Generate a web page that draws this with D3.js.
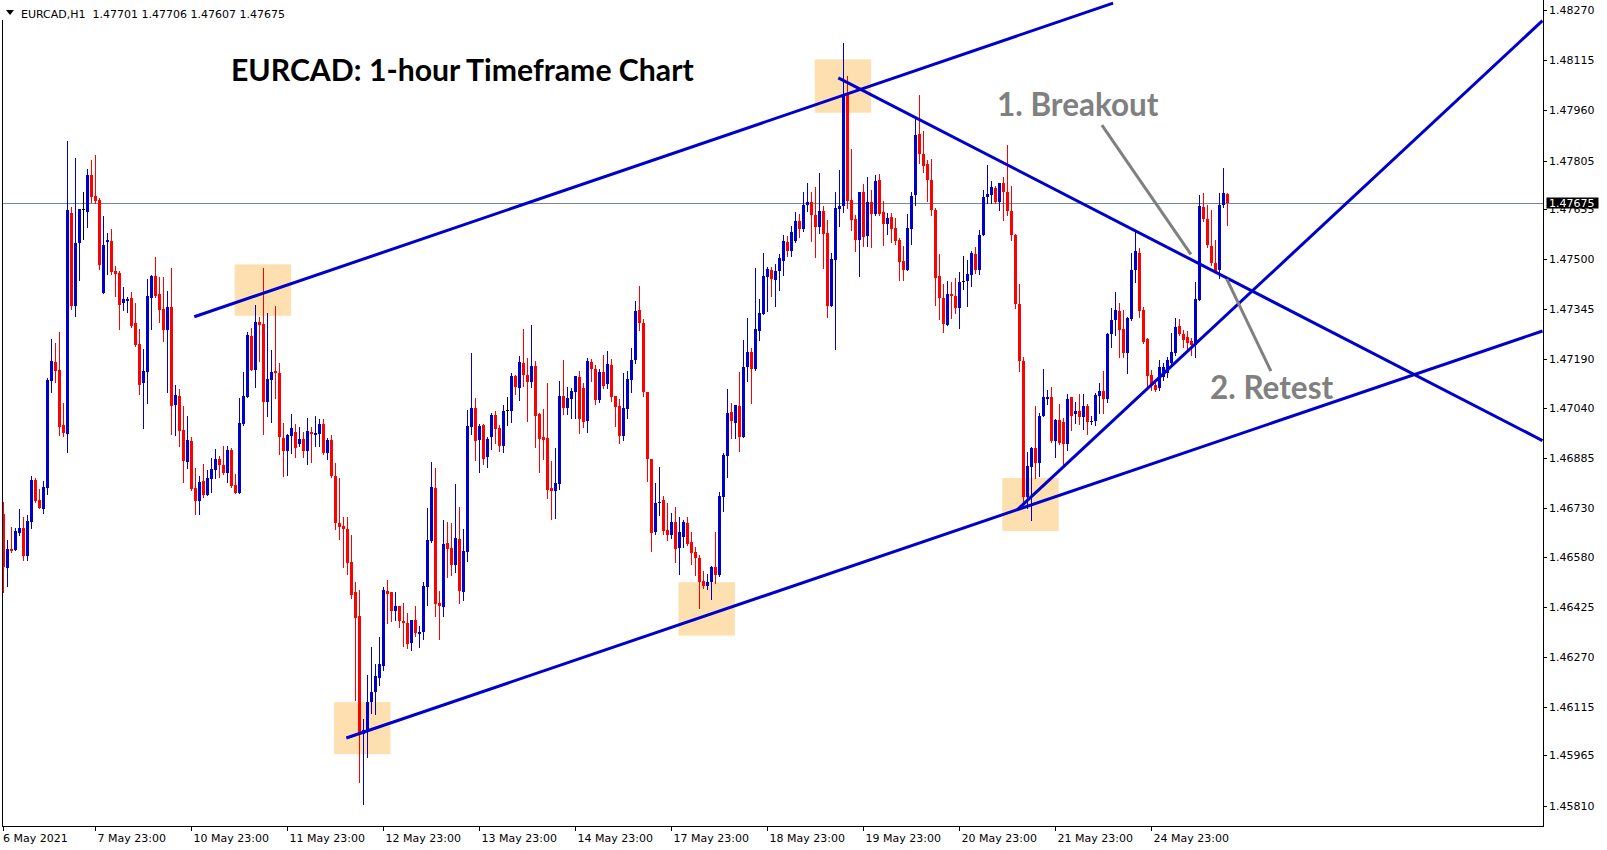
<!DOCTYPE html>
<html><head><meta charset="utf-8">
<script src="https://cdn.jsdelivr.net/npm/d3@7"></script>
<style>body{margin:0;background:#fff;}svg{display:block;}</style>
</head><body>
<svg id="chart" width="1607" height="850"></svg>
<script>
// ---------------- DATA ----------------
const symbol = "EURCAD,H1";
const headerValues = ["1.47701", "1.47706", "1.47607", "1.47675"];
const chartTitle = "EURCAD: 1-hour Timeframe Chart";

// hourly candles, 6 May 2021 .. 25 May 2021 (prices in 1e-5 units added to 1.4)
const opens = [
6712,6545,6604,6601,6653,6669,6582,6687,6817,6755,6728,6793,7124,7182,7158,6987,6960,7643,7355,7550,
7656,7646,7761,7696,7683,7396,7553,7557,7464,7458,7365,7371,7380,7303,7238,7117,7151,7380,7448,7393,
7346,7281,7352,7049,7077,6972,6873,6938,6793,6752,6814,6771,6820,6848,6882,6864,6839,6910,6802,6777,
6991,7074,7263,7158,7306,7300,7059,7127,7154,7148,6947,6907,6953,6966,6929,6944,6907,6966,6956,6960,
6991,6901,6941,6830,6684,6675,6666,6564,6471,6397,6032,6044,6131,6162,6205,6242,6474,6471,6412,6428,
6381,6375,6313,6384,6341,6347,6486,6629,6793,6437,6424,6622,6607,6554,6635,6471,6595,6981,7040,6941,
6987,6888,6950,7018,6978,6922,7034,7031,7139,7102,7179,7142,7120,7170,7021,6950,6947,6793,6783,6805,
7077,7040,7068,7090,7136,7102,7000,7182,7161,7065,7151,7114,7173,7077,7046,6953,7037,7127,7189,7343,
7303,7090,6882,6657,6746,6755,6663,6647,6687,6607,6641,6684,6626,6595,6576,6505,6489,6502,6548,6523,
6765,6892,7028,6994,7046,6950,7167,7213,7161,7278,7331,7445,7467,7436,7464,7495,7553,7526,7557,7618,
7594,7668,7677,7637,7600,7649,7581,7355,7498,7656,7665,8008,7683,7625,7560,7708,7572,7677,7640,7745,
7646,7609,7631,7597,7560,7495,7467,7594,7699,7888,7826,7795,7745,7652,7448,7380,7297,7393,7386,7349,
7433,7433,7451,7516,7467,7575,7693,7699,7721,7677,7736,7708,7649,7575,7362,7185,6765,6858,6916,6870,
7015,7068,7074,6938,7003,6997,6929,7074,7021,7031,7012,7046,6997,7000,7077,7093,7068,7269,7312,7340,
7284,7210,7315,7467,7520,7343,7253,7142,7111,7102,7136,7148,7179,7210,7294,7269,7260,7247,7235,7374,
7662,7625,7541,7488,7467,7668,7701];
const highs = [
6749,6632,6672,6669,6728,6703,6709,6830,6823,6789,6814,7133,7253,7241,7275,7055,7866,7662,7813,7656,
7708,7779,7807,7823,7690,7634,7581,7594,7479,7464,7414,7383,7399,7365,7284,7222,7439,7451,7507,7445,
7445,7402,7473,7111,7099,7046,7015,6950,6854,6830,6867,6848,6885,6913,6892,6922,6922,6916,6836,7071,
7151,7275,7288,7359,7322,7473,7334,7219,7355,7179,6994,6960,7021,6991,6981,6966,7009,6981,7015,7006,
7006,6947,6956,6870,6823,6703,6703,6647,6502,6477,6078,6214,6301,6248,6332,6486,6508,6471,6471,6428,
6437,6406,6384,6428,6366,6502,6731,6873,6854,6474,6694,6687,6684,6805,6734,6666,7034,7210,7071,6991,
6991,6950,7025,7031,6987,7049,7074,7148,7142,7201,7284,7195,7297,7185,7025,7037,7117,6876,6916,7124,
7189,7105,7102,7139,7154,7117,7195,7192,7173,7161,7204,7216,7192,7077,7068,7148,7154,7226,7371,7417,
7315,7090,6882,6808,6858,6768,6746,6715,6734,6703,6694,6703,6657,6610,6585,6536,6527,6551,6657,6780,
6901,7099,7055,7049,7151,7250,7318,7226,7473,7377,7520,7476,7476,7485,7516,7575,7572,7603,7646,7640,
7708,7736,7708,7724,7767,7665,7622,7520,7708,7776,8169,8067,7841,7637,7708,7733,7755,7714,7761,7764,
7680,7643,7643,7628,7566,7541,7640,7708,7937,8008,7897,7807,7810,7659,7516,7424,7433,7430,7442,7461,
7510,7498,7526,7538,7591,7714,7792,7742,7727,7736,7755,7854,7727,7578,7424,7198,6904,6919,7046,7025,
7161,7096,7105,7006,7052,7009,7083,7074,7059,7083,7083,7052,7015,7087,7117,7154,7272,7349,7399,7365,
7343,7322,7520,7584,7535,7352,7257,7158,7117,7189,7179,7198,7272,7318,7315,7281,7278,7257,7430,7699,
7705,7668,7652,7560,7705,7782,7706];
const lows = [
6471,6489,6595,6601,6647,6570,6570,6669,6749,6731,6715,6774,7090,7120,6956,6953,6904,7346,7325,7436,
7563,7600,7677,7674,7470,7396,7455,7455,7386,7284,7343,7337,7291,7232,7083,6978,7055,7284,7383,7306,
7247,7090,6960,6956,6922,6811,6854,6786,6712,6712,6765,6771,6780,6823,6827,6836,6811,6796,6777,6777,
6987,7074,7158,7105,7185,6960,7015,6997,7071,6898,6830,6833,6901,6888,6922,6888,6867,6873,6922,6922,
6898,6882,6827,6666,6635,6548,6527,6452,6137,5883,5815,5961,6097,6094,6183,6230,6375,6381,6384,6363,
6304,6298,6292,6335,6301,6326,6431,6626,6397,6326,6397,6517,6523,6533,6437,6446,6567,6960,6879,6842,
6867,6858,6913,6932,6907,6904,6987,6997,7083,7065,7108,7000,7105,6919,6842,6882,6762,6697,6700,6789,
7021,7021,7009,7009,6963,6981,6966,7124,7052,7059,7102,7102,7062,6984,6932,6941,7009,7090,7179,7281,
7077,6814,6598,6650,6709,6650,6632,6638,6564,6527,6610,6616,6558,6523,6421,6483,6480,6449,6499,6520,
6721,6827,6947,6947,6907,6950,7124,7055,7158,7250,7331,7340,7386,7355,7405,7451,7510,7510,7553,7569,
7588,7649,7557,7507,7581,7473,7322,7355,7222,7603,7646,7659,7591,7526,7448,7541,7541,7538,7637,7637,
7544,7578,7553,7547,7436,7436,7467,7547,7668,7798,7770,7680,7637,7359,7315,7275,7297,7318,7334,7288,
7408,7355,7417,7458,7455,7575,7674,7674,7674,7652,7622,7637,7560,7349,7154,6746,6731,6694,6823,6830,
7015,7052,6935,6888,6929,6864,6910,6972,6994,6991,6975,6960,6991,6987,7025,7025,7059,7229,7266,7198,
7198,7148,7312,7430,7322,7241,7105,7096,7093,7096,7127,7136,7173,7204,7266,7229,7219,7204,7198,7374,
7618,7538,7482,7461,7442,7662,7607];
const closes = [
6548,6604,6598,6660,6669,6582,6690,6817,6752,6731,6796,7127,7185,7154,6981,6963,7652,7355,7550,7656,
7656,7761,7693,7680,7482,7544,7560,7461,7455,7359,7377,7377,7294,7235,7111,7154,7386,7448,7386,7343,
7281,7352,7046,7080,6969,6876,6941,6789,6752,6811,6771,6823,6851,6882,6864,6839,6910,6799,6777,6994,
7077,7266,7158,7306,7297,7059,7130,7151,7148,6950,6907,6956,6978,6916,6944,6907,6969,6960,6963,6991,
6901,6941,6830,6684,6672,6666,6561,6462,6391,6035,6044,6131,6162,6211,6248,6477,6465,6412,6428,6381,
6375,6310,6384,6344,6347,6489,6632,6796,6434,6428,6619,6604,6554,6638,6474,6598,6984,7040,6938,6984,
6882,6944,7018,6975,6922,7031,7034,7139,7105,7182,7142,7120,7170,7015,6944,6941,6786,6783,6808,7077,
7040,7071,7093,7139,7006,6997,7185,7161,7065,7151,7108,7176,7074,7043,6953,7040,7130,7189,7340,7303,
7090,6882,6653,6746,6749,6660,6647,6687,6604,6657,6687,6619,6592,6576,6502,6489,6502,6548,6523,6768,
6895,7025,7000,7049,6950,7167,7213,7161,7284,7334,7448,7470,7439,7464,7504,7557,7526,7584,7618,7594,
7668,7677,7637,7600,7649,7578,7355,7501,7659,7665,8008,7680,7622,7560,7708,7569,7677,7640,7742,7640,
7609,7628,7594,7557,7492,7467,7597,7696,7884,7826,7789,7745,7652,7442,7380,7300,7393,7386,7349,7430,
7433,7455,7520,7467,7575,7693,7702,7724,7677,7736,7708,7649,7575,7362,7185,6765,6861,6916,6870,7015,
7074,7074,6938,7003,6932,6929,7068,7015,7031,7012,7046,6997,7000,7080,7093,7068,7269,7312,7343,7281,
7210,7318,7467,7526,7340,7244,7139,7111,7096,7167,7167,7189,7213,7291,7269,7250,7241,7235,7377,7665,
7625,7544,7488,7464,7668,7705,7675];

const timeLabels = ["6 May 2021","7 May 23:00","10 May 23:00","11 May 23:00","12 May 23:00","13 May 23:00",
  "14 May 23:00","17 May 23:00","18 May 23:00","19 May 23:00","20 May 23:00","21 May 23:00","24 May 23:00"];
const timeLabelBars = [0,23,47,71,95,119,143,167,191,215,239,263,287];

const priceTickLabels = ["1.48270","1.48115","1.47960","1.47805","1.47655","1.47500","1.47345","1.47190",
  "1.47040","1.46885","1.46730","1.46580","1.46425","1.46270","1.46115","1.45965","1.45810"];
const currentPrice = 1.47675;

// drawing objects, anchored in (bar index, price)
const trendBars   = [[47.7, 277.4], [85.7, 384.75], [208.7, 384.75], [253.55, 384.75]];
const trendPrices = [[1.47322, 1.48292], [1.46019, 1.47278], [1.48061, 1.46939], [1.46726, 1.48238]];
const zoneBars    = [[57.8, 71.9], [202.8, 216.9], [82.65, 96.75], [168.75, 182.85], [249.7, 263.8]];
const zonePrices  = [[1.47484, 1.47325], [1.48118, 1.47953], [1.46130, 1.45969], [1.46501, 1.46336], [1.46823, 1.46659]];
const arrowBars   = [[274.6, 296.85], [316.85, 305.8]];
const arrowPrices = [[1.47915, 1.47515], [1.47154, 1.47439]];
const noteTexts   = ["1. Breakout", "2. Retest"];

// ---------------- CHART ----------------
const svg = d3.select("#chart");
const n = opens.length;
const candles = d3.range(n).map(i => ({
  i, o: 1.4 + opens[i] / 1e5, h: 1.4 + highs[i] / 1e5, l: 1.4 + lows[i] / 1e5, c: 1.4 + closes[i] / 1e5
}));

const x = d3.scaleLinear().domain([0, n - 1]).range([3.5, 3.5 + 4 * (n - 1)]);
const y = d3.scaleLinear().domain([1.45810, 1.48270]).range([805.6, 10.25]);

const plotL = 2.5, plotR = 1543.5, plotB = 826.5;

svg.append("rect").attr("width", 1607).attr("height", 850).attr("fill", "#fff");

svg.append("defs").append("clipPath").attr("id", "plotclip")
  .append("rect").attr("x", 3).attr("y", 0).attr("width", plotR - 3.5).attr("height", plotB - 0.5);

const plot = svg.append("g").attr("clip-path", "url(#plotclip)");

// zones
plot.append("g").selectAll("rect").data(zoneBars).join("rect")
  .attr("x", (d) => x(d[0]))
  .attr("width", (d) => x(d[1]) - x(d[0]))
  .attr("y", (d, k) => y(zonePrices[k][0]))
  .attr("height", (d, k) => y(zonePrices[k][1]) - y(zonePrices[k][0]))
  .attr("fill", "#FDDFB0");

// current price line
const yCur = Math.round(y(currentPrice)) + 0.5;
plot.append("line").attr("x1", plotL).attr("x2", plotR).attr("y1", yCur).attr("y2", yCur)
  .attr("stroke", "#778899").attr("stroke-width", 1);

// candles
const colorOf = d => d.c > d.o ? "#0000CD" : (d.c < d.o ? "#FF0000" : "#000000");
const cg = plot.append("g").attr("shape-rendering", "crispEdges");
cg.selectAll("line").data(candles).join("line")
  .attr("x1", d => x(d.i)).attr("x2", d => x(d.i))
  .attr("y1", d => Math.round(y(d.h))).attr("y2", d => Math.round(y(d.l)) + 1)
  .attr("stroke", colorOf).attr("stroke-width", 1);
cg.selectAll("rect").data(candles).join("rect")
  .attr("x", d => x(d.i) - 1.5).attr("width", 3)
  .attr("y", d => Math.round(y(Math.max(d.o, d.c))))
  .attr("height", d => Math.max(1, Math.round(y(Math.min(d.o, d.c))) - Math.round(y(Math.max(d.o, d.c)))))
  .attr("fill", colorOf);

// trendlines
plot.append("g").selectAll("line").data(trendBars).join("line")
  .attr("x1", d => x(d[0])).attr("x2", d => x(d[1]))
  .attr("y1", (d, k) => y(trendPrices[k][0])).attr("y2", (d, k) => y(trendPrices[k][1]))
  .attr("stroke", "#0000CD").attr("stroke-width", 3);

// arrows
plot.append("g").selectAll("line").data(arrowBars).join("line")
  .attr("x1", d => x(d[0])).attr("x2", d => x(d[1]))
  .attr("y1", (d, k) => y(arrowPrices[k][0])).attr("y2", (d, k) => y(arrowPrices[k][1]))
  .attr("stroke", "#808080").attr("stroke-width", 3);

// notes
svg.append("text").attr("x", 997).attr("y", 116).text(noteTexts[0])
  .attr("font-family", "Lato").attr("font-weight", 700).attr("font-size", 31.5).attr("fill", "#808080");
svg.append("text").attr("x", 1210).attr("y", 399).text(noteTexts[1])
  .attr("font-family", "Lato").attr("font-weight", 700).attr("font-size", 31.5).attr("fill", "#808080");

// title
svg.append("text").attr("x", 231).attr("y", 81).text(chartTitle)
  .attr("font-family", "Lato").attr("font-weight", 700).attr("font-size", 30.2).attr("fill", "#000");

// frame
const fg = svg.append("g").attr("shape-rendering", "crispEdges");
fg.append("line").attr("x1", plotL).attr("x2", plotL).attr("y1", 20).attr("y2", plotB).attr("stroke", "#000");
fg.append("line").attr("x1", plotR).attr("x2", plotR).attr("y1", 0).attr("y2", plotB).attr("stroke", "#000");
fg.append("line").attr("x1", plotL).attr("x2", plotR).attr("y1", plotB).attr("y2", plotB).attr("stroke", "#000");

// price axis
const axFont = "DejaVu Sans";
const yTickVals = priceTickLabels.map(Number);
const pa = svg.append("g");
pa.selectAll("line").data(yTickVals).join("line")
  .attr("x1", plotR).attr("x2", plotR + 3)
  .attr("y1", d => Math.round(y(d)) + 0.5).attr("y2", d => Math.round(y(d)) + 0.5)
  .attr("stroke", "#000").attr("shape-rendering", "crispEdges");
pa.selectAll("text").data(yTickVals).join("text")
  .attr("x", 1549).attr("y", d => y(d) + 4)
  .attr("font-family", axFont).attr("font-size", 11).attr("fill", "#000")
  .text((d, k) => priceTickLabels[k]);

// current price box
svg.append("rect").attr("x", 1546.5).attr("y", Math.round(y(currentPrice)) - 5.5)
  .attr("width", 52).attr("height", 11).attr("fill", "#000");
svg.append("text").attr("x", 1549).attr("y", y(currentPrice) + 4)
  .attr("font-family", axFont).attr("font-size", 11).attr("fill", "#fff")
  .text(d3.format(".5f")(currentPrice));

// time axis
const ta = svg.append("g");
ta.selectAll("line").data(timeLabelBars).join("line")
  .attr("x1", d => x(d)).attr("x2", d => x(d))
  .attr("y1", plotB).attr("y2", plotB + 4)
  .attr("stroke", "#000").attr("shape-rendering", "crispEdges");
ta.selectAll("text").data(timeLabelBars).join("text")
  .attr("x", (d, k) => k === 0 ? x(d) - 0.5 : x(d) + 2)
  .attr("y", 842)
  .attr("font-family", axFont).attr("font-size", 11).attr("fill", "#000")
  .text((d, k) => timeLabels[k]);

// header
const hg = svg.append("g");
hg.append("path").attr("d", "M6,10 L14,10 L10,15 Z").attr("fill", "#000");
hg.append("text").attr("x", 21).attr("y", 18)
  .attr("font-family", axFont).attr("font-size", 11).attr("fill", "#000")
  .attr("xml:space", "preserve")
  .text(symbol + "\u00a0\u00a0" + headerValues.join(" "));
</script>
</body></html>
